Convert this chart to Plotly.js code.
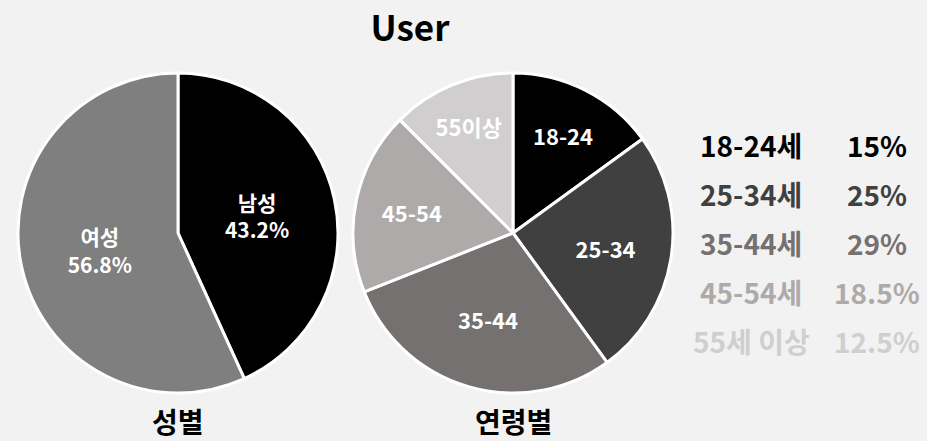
<!DOCTYPE html>
<html><head><meta charset="utf-8">
<script src="https://cdn.plot.ly/plotly-3.0.1.min.js"></script>
<style>html,body{margin:0;padding:0;background:#f2f2f2;}#chart{width:927px;height:441px;}</style>
</head><body><div id="chart"></div>
<script>
const genderLabels = ['남성', '여성'];
const genderValues = [43.2, 56.8];
const genderColors = ['#000000', '#7f7f7f'];

const ageLabels = ['18-24', '25-34', '35-44', '45-54', '55이상'];
const ageValues = [15, 25, 29, 18.5, 12.5];
const ageColors = ['#000000', '#404040', '#757171', '#aeaaaa', '#d0cece'];

const legendLabels = ['18-24세', '25-34세', '35-44세', '45-54세', '55세 이상'];
const legendPercents = ['15%', '25%', '29%', '18.5%', '12.5%'];

const FONT = '"Noto Sans CJK KR", "Noto Sans", sans-serif';
const W = 927, H = 441;

const traces = [
  {
    type: 'pie', labels: genderLabels, values: genderValues, sort: false,
    direction: 'clockwise', rotation: 0,
    marker: {colors: genderColors, line: {color: '#ffffff', width: 3}},
    texttemplate: '%{label}<br>%{value}%', textposition: 'inside',
    insidetextorientation: 'horizontal',
    textfont: {family: FONT, size: 21, color: '#ffffff', weight: 'bold'},
    hoverinfo: 'none', showlegend: false,
    domain: {x: [18 / W, 338 / W], y: [(H - 393) / H, (H - 73) / H]}
  },
  {
    type: 'pie', labels: ageLabels, values: ageValues, sort: false,
    direction: 'clockwise', rotation: 0,
    marker: {colors: ageColors, line: {color: '#ffffff', width: 3}},
    texttemplate: '%{label}', textposition: 'inside',
    insidetextorientation: 'horizontal',
    textfont: {family: FONT, size: 22, color: '#ffffff', weight: 'bold'},
    hoverinfo: 'none', showlegend: false,
    domain: {x: [353 / W, 673 / W], y: [(H - 393) / H, (H - 73) / H]}
  }
];

const annotations = [];
annotations.push({text: '성별', x: 178 / W, y: 1 - 421 / H, xref: 'paper', yref: 'paper',
  xanchor: 'center', yanchor: 'middle', showarrow: false,
  font: {family: FONT, size: 28, color: '#000000', weight: 'bold'}});
annotations.push({text: '연령별', x: 513 / W, y: 1 - 421 / H, xref: 'paper', yref: 'paper',
  xanchor: 'center', yanchor: 'middle', showarrow: false,
  font: {family: FONT, size: 28, color: '#000000', weight: 'bold'}});
legendLabels.forEach((lab, i) => {
  const yy = 1 - (145 + i * 49) / H;
  annotations.push({text: lab, x: 751 / W, y: yy, xref: 'paper', yref: 'paper',
    xanchor: 'center', yanchor: 'middle', showarrow: false,
    font: {family: FONT, size: 28, color: ageColors[i], weight: 'bold'}});
  annotations.push({text: legendPercents[i], x: 877 / W, y: yy, xref: 'paper', yref: 'paper',
    xanchor: 'center', yanchor: 'middle', showarrow: false,
    font: {family: FONT, size: 28, color: ageColors[i], weight: 'bold'}});
});

const layout = {
  width: W, height: H,
  margin: {l: 0, r: 0, t: 0, b: 0},
  paper_bgcolor: '#f2f2f2', plot_bgcolor: '#f2f2f2',
  title: {text: 'User', x: 410 / W, xref: 'paper', xanchor: 'center',
    y: 1 - 29 / H, yref: 'container', yanchor: 'middle',
    font: {family: FONT, size: 35, color: '#000000', weight: 'bold'}},
  annotations: annotations,
  showlegend: false
};

Plotly.newPlot('chart', traces, layout, {displayModeBar: false, staticPlot: true});
</script></body></html>
